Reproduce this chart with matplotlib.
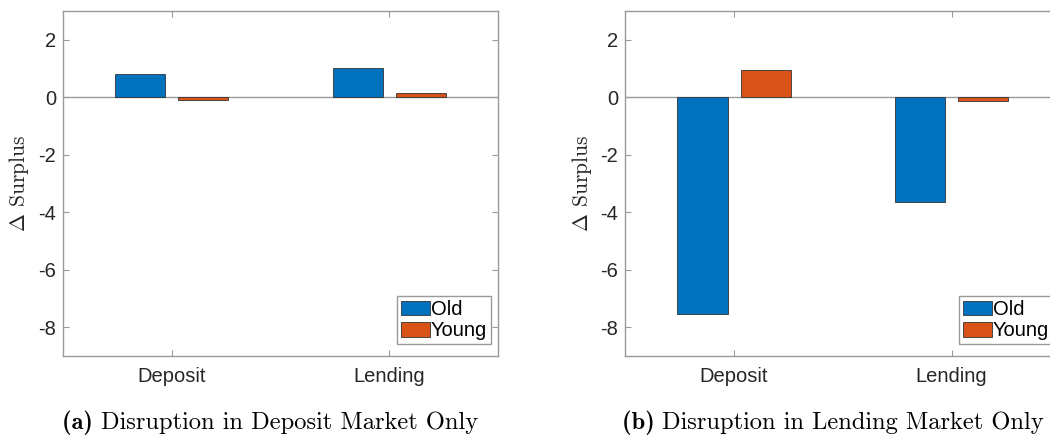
import matplotlib.pyplot as plt
import numpy as np

plt.rcParams['mathtext.fontset'] = 'cm'

markets = ['Deposit', 'Lending']
groups = ['Old', 'Young']
# panel (a): disruption in deposit market only
old_a = [0.82, 1.01]
young_a = [-0.09, 0.16]
# panel (b): disruption in lending market only
old_b = [-7.55, -3.66]
young_b = [0.96, -0.13]
captions = [('(a)', 'Disruption in Deposit Market Only'),
            ('(b)', 'Disruption in Lending Market Only')]

blue = '#0072BD'
orange = '#D95319'
grey = '#9a9a9a'
sans = 'Liberation Sans'

fig = plt.figure(figsize=(10.5, 4.36), dpi=100)
lefts = [0.06, 0.5955]

x = np.arange(1, len(markets) + 1)
w = 0.23
off = 0.145

for i, (old, young) in enumerate([(old_a, young_a), (old_b, young_b)]):
    ax = fig.add_axes([lefts[i], 0.184, 0.4143, 0.7906])
    ax.bar(x - off, old, w, color=blue, edgecolor='#333333', linewidth=0.6, label=groups[0], zorder=2)
    ax.bar(x + off, young, w, color=orange, edgecolor='#333333', linewidth=0.6, label=groups[1], zorder=2)
    ax.axhline(0, color=grey, linewidth=1.0, zorder=1)
    ax.set_xlim(0.5, 2.5)
    ax.set_ylim(-9, 3)
    ax.set_yticks([-8, -6, -4, -2, 0, 2])
    ax.set_yticklabels(['-8', '-6', '-4', '-2', '0', '2'])
    ax.set_xticks(x)
    ax.set_xticklabels(markets)
    for s in ax.spines.values():
        s.set_color(grey)
        s.set_linewidth(1.0)
    ax.tick_params(direction='in', length=4, color=grey, top=True, right=True,
                   labelsize=14.5, labelcolor='#262626')
    for lab in ax.get_xticklabels() + ax.get_yticklabels():
        lab.set_fontfamily(sans)
    ax.tick_params(axis='x', pad=8)
    ax.tick_params(axis='y', pad=5)
    ax.set_ylabel(r'$\Delta$ Surplus', fontfamily='cmr10', fontsize=15.5, color='#262626', labelpad=5)
    leg = ax.legend(loc='lower right', bbox_to_anchor=(0.984, 0.033), borderaxespad=0,
                    prop={'family': sans, 'size': 14.5}, handlelength=1.45, handleheight=0.75,
                    handletextpad=0.05, labelspacing=0.12, borderpad=0.2, fancybox=False,
                    framealpha=1, edgecolor=grey)
    leg.get_frame().set_linewidth(1.0)
    # caption below panel, sits a little left of the axes centre
    cx = lefts[i] + 0.4143 / 2 - 10 / 1050
    tag, txt = captions[i]
    t1 = fig.text(cx, 0.016, tag + ' ', fontfamily='cmb10', fontsize=17.6, ha='right', va='baseline')
    fig.canvas.draw()
    full_w = t1.get_window_extent().width
    t2 = fig.text(cx, 0.016, txt, fontfamily='cmr10', fontsize=17.6, ha='left', va='baseline')
    fig.canvas.draw()
    w2 = t2.get_window_extent().width
    shift = (full_w - w2) / 2 / fig.bbox.width
    t1.set_x(cx + shift)
    t2.set_x(cx + shift)

fig.savefig('out.png', dpi=100)
